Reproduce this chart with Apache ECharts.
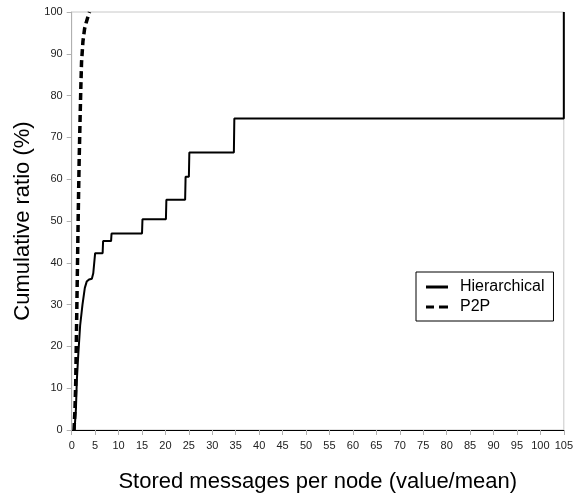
<!DOCTYPE html>
<html>
<head>
<meta charset="utf-8">
<script src="https://cdn.jsdelivr.net/npm/echarts@6/dist/echarts.min.js"></script>
<style>html,body{margin:0;padding:0;background:#fff}#c{width:576px;height:498px}</style>
</head>
<body>
<div id="c"></div>
<script>
var seriesNames = ['Hierarchical', 'P2P'];
var hierX = [0.6, 0.9, 1.1, 1.4, 1.8, 2.3, 2.8, 3.2, 3.7, 4.3, 4.6, 5.0, 6.6, 6.7, 8.4, 8.5, 15.0, 15.1, 20.1, 20.2, 24.2, 24.3, 25.0, 25.1, 34.6, 34.7, 105, 105];
var hierY = [0, 5, 12, 18, 25, 30, 34, 35.5, 36, 36.2, 37.5, 42.3, 42.3, 45.2, 45.2, 47, 47, 50.4, 50.4, 55.1, 55.1, 60.6, 60.6, 66.4, 66.4, 74.5, 74.5, 100];
var p2pX = [0.5, 0.7, 0.85, 1.0, 1.2, 1.4, 1.6, 1.8, 1.95, 2.1, 2.4, 2.75, 3.1, 3.5, 3.8];
var p2pY = [0, 5, 11, 22, 37, 52, 65, 75, 82, 88, 93, 96, 97.5, 99, 100];
var xTicks = [0,5,10,15,20,25,30,35,40,45,50,55,60,65,70,75,80,85,90,95,100,105];
var yTicks = [0,10,20,30,40,50,60,70,80,90,100];

function pairs(xs, ys){ return xs.map(function(x,i){ return [x, ys[i]]; }); }

var font = 'Liberation Sans';
var chart = echarts.init(document.getElementById('c'), null, {renderer:'canvas'});
chart.setOption({
  animation: false,
  backgroundColor: '#fff',
  textStyle: {fontFamily: font},
  grid: {left: 71.7, right: 9, top: 12, bottom: 61, show: true, borderColor: '#c8c8c8', borderWidth: 1},
  legend: {
    data: [
      {name: seriesNames[0], icon: 'path://M0,0h22v3h-22z'},
      {name: seriesNames[1], icon: 'path://M0,0h8v3h-8z M13,0h9v3h-9z'}
    ],
    orient: 'vertical',
    left: 416, top: 272,
    borderColor: '#000', borderWidth: 1,
    padding: [7, 9, 6, 10],
    itemGap: 4,
    itemWidth: 22, itemHeight: 3,
    itemStyle: {color: '#000'},
    textStyle: {fontFamily: font, fontSize: 16, color: '#000', padding: [0, 0, 0, 7]}
  },
  xAxis: {
    type: 'value', min: 0, max: 105, interval: 5,
    name: 'Stored messages per node (value/mean)',
    nameLocation: 'middle', nameGap: 41,
    nameTextStyle: {fontFamily: font, fontSize: 22, color: '#000'},
    axisLine: {lineStyle: {color: '#000', width: 1}},
    axisTick: {show: true, length: 5, lineStyle: {color: '#b0b0b0'}},
    axisLabel: {fontFamily: font, fontSize: 11, color: '#222', margin: 10,
      formatter: function(v){ return xTicks.indexOf(v) >= 0 ? String(v) : ''; }},
    splitLine: {show: false}
  },
  yAxis: {
    type: 'value', min: 0, max: 100, interval: 10,
    name: 'Cumulative ratio (%)',
    nameLocation: 'middle', nameGap: 38, nameRotate: 90,
    nameTextStyle: {fontFamily: font, fontSize: 22, color: '#000'},
    axisLine: {show: true, lineStyle: {color: '#b0b0b0', width: 1}},
    axisTick: {show: true, length: 5, lineStyle: {color: '#b0b0b0'}},
    axisLabel: {fontFamily: font, fontSize: 11, color: '#222', margin: 9,
      formatter: function(v){ return yTicks.indexOf(v) >= 0 ? String(v) : ''; }},
    splitLine: {show: false}
  },
  series: [
    {name: seriesNames[0], type: 'line', data: pairs(hierX, hierY), showSymbol: false, symbol: 'none',
     lineStyle: {color: '#000', width: 2}, itemStyle: {color: '#000'}},
    {name: seriesNames[1], type: 'line', data: pairs(p2pX, p2pY), showSymbol: false, symbol: 'none', smooth: false,
     lineStyle: {color: '#000', width: 3.5, type: [7, 4]}, itemStyle: {color: '#000'}}
  ]
});
</script>
</body>
</html>
